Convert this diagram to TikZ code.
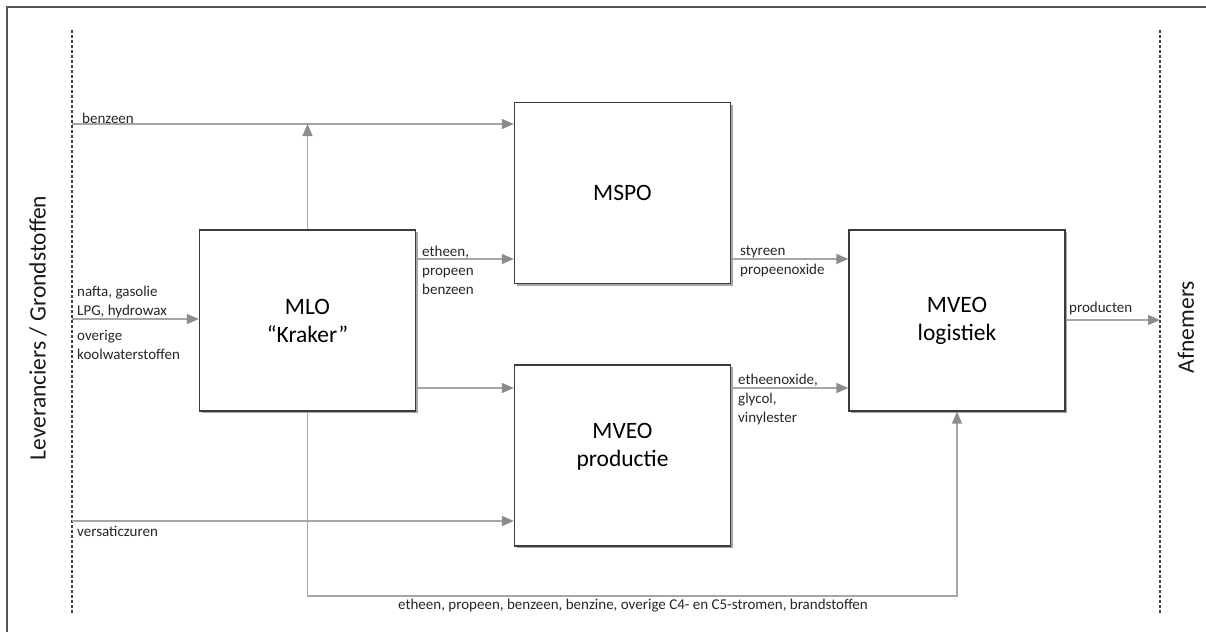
\documentclass[tikz,border=0pt]{standalone}
\usepackage{fontspec}
\setmainfont{Carlito}
\usetikzlibrary{arrows.meta,shadows}
\definecolor{boxc}{HTML}{3C3C3C}
\definecolor{flowc}{HTML}{A6A6A6}
\definecolor{tipc}{HTML}{8C8C8C}
\definecolor{framec}{HTML}{555555}
\definecolor{dashc}{HTML}{404040}
\newcommand\bigfnt{\fontsize{23.5}{28}\selectfont}
\newcommand\smallfnt{\fontsize{15}{19}\selectfont}
\begin{document}
\begin{tikzpicture}[x=1pt,y=-1pt,
  procbox/.style={draw=boxc, line width=1.3pt, fill=white, minimum width=216pt, minimum height=181pt,
    align=center, font=\bigfnt, inner sep=0pt,
    drop shadow={shadow xshift=2pt, shadow yshift=-2pt, opacity=0.35, fill=black}},
  flow/.style={draw=flowc, line width=1.4pt, -{Triangle[length=12pt,width=10pt,color=tipc,fill=tipc]}},
  flowplain/.style={draw=flowc, line width=1.4pt},
  lbl/.style={font=\smallfnt, align=left, inner sep=0pt, anchor=north west, text=black!85},
  side/.style={font=\bigfnt, inner sep=0pt, rotate=90, text=black!90},
  border/.style={draw=dashc, line width=1.2pt, dash pattern=on 3pt off 2pt}
]
\useasboundingbox (0,0) rectangle (1206,632);
% frame (only top and left edges visible)
\draw[draw=framec, line width=1.2pt] (1206,7) -- (7,7) -- (7,632);

% boundaries
\coordinate (lt) at (72,30);
\coordinate (lbot) at (72,614);
\coordinate (rt) at (1160,30);
\coordinate (rbot) at (1160,614);
\draw[border] (lt) -- (lbot);
\draw[border] (rt) -- (rbot);

\node[side] (lev) at (38,328) {Leveranciers / Grondstoffen};
\node[side] (afn) at (1186,327) {Afnemers};

% boxes
\node[procbox] (mlo)  at (307.5,320.5) {MLO\\“Kraker”};
\node[procbox] (mspo) at (622.5,193)   {MSPO};
\node[procbox] (mveop) at (622.5,455.5) {};
\node[font=\bigfnt, align=center, inner sep=0pt] (mveoptxt) at (622.5,447) {MVEO\\productie};
\node[procbox] (mveol) at (957,320.5) {MVEO\\logistiek};

% helper coordinates on the left boundary
\coordinate (yb) at (72,124);
\coordinate (yn) at (72,319);
\coordinate (yv) at (72,521);
\coordinate (y1) at (0,259);
\coordinate (y2) at (0,388);
\coordinate (yp) at (0,320);
\coordinate (ybot) at (0,596);

% connectors
\draw[flow] (yb) -- (yb -| mspo.west);
\draw[flow] (mlo.north) -- (mlo.north |- yb);
\draw[flow] (yn) -- (yn -| mlo.west);
\draw[flow] (y1 -| mlo.east) -- (y1 -| mspo.west);
\draw[flow] (y2 -| mlo.east) -- (y2 -| mveop.west);
\draw[flow] (y1 -| mspo.east) -- (y1 -| mveol.west);
\draw[flow] (y2 -| mveop.east) -- (y2 -| mveol.west);
\draw[flow] (yp -| mveol.east) -- (yp -| rt);
\draw[flow] (yv) -- (yv -| mveop.west);
\draw[flow] (mlo.south) -- (mlo.south |- ybot) -- (mveol.south |- ybot) -- (mveol.south);

% labels
\node[lbl] (lbenz) at (82,113) {benzeen};
\node[lbl] (lnafta) at (77,286) {nafta, gasolie\\LPG, hydrowax};
\node[lbl] (lover) at (77,330) {overige\\koolwaterstoffen};
\node[lbl] (leth) at (422,246) {etheen,\\propeen\\benzeen};
\node[lbl] (lsty) at (740,246) {styreen\\propeenoxide};
\node[lbl] (leo) at (738,374) {etheenoxide,\\glycol,\\vinylester};
\node[lbl] (lprod) at (1069,302) {producten};
\node[lbl] (lvers) at (77,526) {versaticzuren};
\node[font=\smallfnt, inner sep=0pt, text=black!85] (lbot) at (633,606) {etheen, propeen, benzeen, benzine, overige C4- en C5-stromen, brandstoffen};
\end{tikzpicture}
\end{document}
